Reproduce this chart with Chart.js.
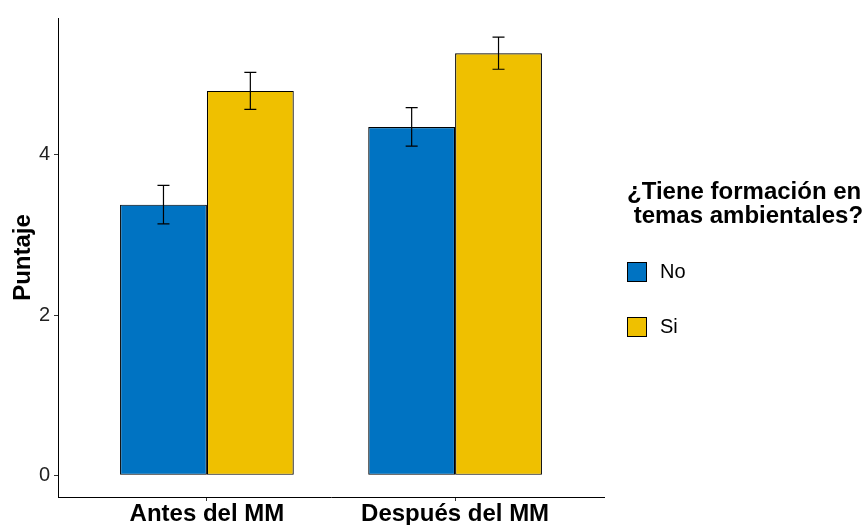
<!DOCTYPE html>
<html>
<head>
<meta charset="utf-8">
<script src="https://cdn.jsdelivr.net/npm/chart.js@4"></script>
<style>
    html, body { margin: 0; padding: 0; background: #fff; }
    #wrap { width: 867px; height: 525px; }
</style>
</head>
<body>
<div id="wrap"><canvas id="puntajeChart" width="867" height="525"></canvas></div>
<script>
// ============== DATA ==============

const categories = ['Antes del MM', 'Después del MM'];
const groupLabels = ['No', 'Si'];
const groupColors = ['#0073C2', '#EFC000'];
const puntajeNo = [3.38, 4.35];
const puntajeSi = [4.80, 5.27];
const errorNo = [0.24, 0.24];
const errorSi = [0.23, 0.20];
const yTicks = [0, 2, 4];
const legendTitle = ['¿Tiene formación en', ' temas ambientales?'];

const FONT = '"Liberation Sans", Arial, sans-serif';
Chart.defaults.font.family = FONT;

// Bars sit on a numeric x axis so the group spacing works like ggplot's discrete scale
function toPoints(values) {
    return values.map((v, i) => ({ x: i + 1, y: v }));
}

// Error bars: vertical line with small caps, from the dataset's errors array
const errorBarPlugin = {
    id: 'errorBars',
    afterDatasetsDraw(chart) {
        const ctx = chart.ctx;
        const yScale = chart.scales.y;
        ctx.save();
        ctx.strokeStyle = '#000';
        ctx.lineWidth = 1.2;
        chart.data.datasets.forEach((ds, di) => {
            const meta = chart.getDatasetMeta(di);
            meta.data.forEach((bar, i) => {
                const v = ds.data[i].y;
                const e = ds.errors[i];
                const top = yScale.getPixelForValue(v + e);
                const bot = yScale.getPixelForValue(v - e);
                const cap = 6;
                ctx.beginPath();
                ctx.moveTo(bar.x, top);
                ctx.lineTo(bar.x, bot);
                ctx.moveTo(bar.x - cap, top);
                ctx.lineTo(bar.x + cap, top);
                ctx.moveTo(bar.x - cap, bot);
                ctx.lineTo(bar.x + cap, bot);
                ctx.stroke();
            });
        });
        ctx.restore();
    }
};

// Legend on the right with a two-line bold title
const sideLegendPlugin = {
    id: 'sideLegend',
    afterDraw(chart) {
        const ctx = chart.ctx;
        const left = 627;
        ctx.save();
        ctx.fillStyle = '#000';
        ctx.textAlign = 'left';
        ctx.textBaseline = 'alphabetic';
        ctx.font = 'bold 24px ' + FONT;
        legendTitle.forEach((line, i) => {
            ctx.fillText(line, left, 199 + i * 24);
        });

        ctx.font = '20px ' + FONT;
        ctx.textBaseline = 'middle';
        chart.data.datasets.forEach((ds, i) => {
            const y = 262 + i * 55;
            ctx.fillStyle = ds.backgroundColor;
            ctx.fillRect(left, y, 20, 20);
            ctx.strokeStyle = '#000';
            ctx.lineWidth = 1;
            ctx.strokeRect(left + 0.5, y + 0.5, 19, 19);
            ctx.fillStyle = '#000';
            ctx.fillText(ds.label, left + 33, y + 10);
        });
        ctx.restore();
    }
};

function makeDataset(label, values, errors, color) {
    return {
        label: label,
        data: toPoints(values),
        errors: errors,
        backgroundColor: color,
        borderColor: '#000',
        borderWidth: 1.2,
        borderSkipped: false,
        categoryPercentage: 0.7,
        barPercentage: 1.0
    };
}

const ctx = document.getElementById('puntajeChart').getContext('2d');

new Chart(ctx, {
    type: 'bar',
    data: {
        datasets: [
            makeDataset(groupLabels[0], puntajeNo, errorNo, groupColors[0]),
            makeDataset(groupLabels[1], puntajeSi, errorSi, groupColors[1])
        ]
    },
    options: {
        responsive: false,
        animation: false,
        devicePixelRatio: 1,
        layout: {
            padding: { top: 18, right: 263, left: 0, bottom: 0 }
        },
        plugins: {
            legend: { display: false },
            tooltip: { enabled: false }
        },
        scales: {
            x: {
                type: 'linear',
                min: 0.4,
                max: 2.6,
                offset: false,
                afterBuildTicks: (scale) => {
                    scale.ticks = categories.map((c, i) => ({ value: i + 1 }));
                },
                afterFit: (scale) => { scale.height = 28; },
                ticks: {
                    autoSkip: false,
                    maxRotation: 0,
                    padding: -1,
                    color: '#000',
                    font: { size: 24, weight: 'bold' },
                    callback: (value, index) => categories[index]
                },
                grid: {
                    offset: false,
                    drawOnChartArea: false,
                    tickLength: 4,
                    color: '#333'
                },
                border: { color: '#000', width: 1 }
            },
            y: {
                min: -0.27,
                max: 5.71,
                afterBuildTicks: (scale) => {
                    scale.ticks = yTicks.map(v => ({ value: v }));
                },
                afterFit: (scale) => { scale.width = 58; },
                ticks: {
                    padding: 4,
                    color: '#222',
                    font: { size: 20 }
                },
                grid: {
                    drawOnChartArea: false,
                    tickLength: 4,
                    color: '#333'
                },
                border: { color: '#000', width: 1 },
                title: {
                    display: true,
                    text: 'Puntaje',
                    color: '#000',
                    font: { size: 24, weight: 'bold' },
                    padding: { top: 9, bottom: 0 }
                }
            }
        }
    },
    plugins: [errorBarPlugin, sideLegendPlugin]
});
</script>
</body>
</html>
